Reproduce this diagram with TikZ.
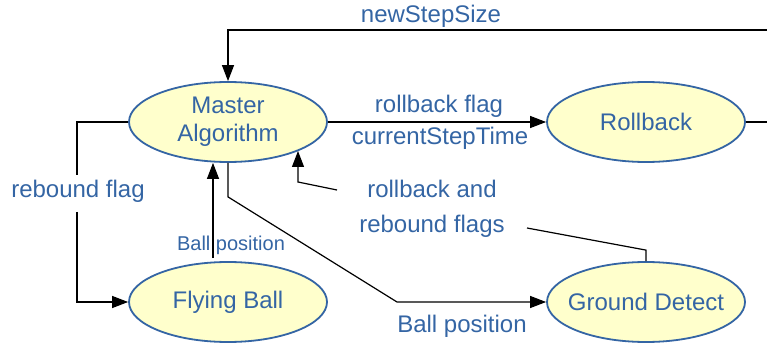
\documentclass[tikz,border=0pt]{standalone}
\usepackage{fontspec}
\setmainfont{Liberation Sans}
\usetikzlibrary{shapes.geometric,arrows.meta}
\definecolor{txtblue}{HTML}{3465A4}
\definecolor{nodefill}{HTML}{FFFFCC}
\begin{document}
\begin{tikzpicture}[x=1pt,y=-1pt,
  state/.style={ellipse, draw=txtblue, line width=1.8pt, fill=nodefill,
    minimum width=198pt, minimum height=80pt, inner xsep=-12pt, inner ysep=0pt,
    text=txtblue, font=\fontsize{24}{28}\selectfont, align=center},
  lbl/.style={text=txtblue, font=\fontsize{24}{28}\selectfont, anchor=base, inner sep=0pt},
  smalllbl/.style={lbl, font=\fontsize{20}{24}\selectfont},
  conn/.style={line width=1.2pt, draw=black},
  arr/.style={conn, -{Triangle[length=16pt,width=12pt]}}
]
\useasboundingbox (0,0) rectangle (767,347);

\node[state] (m) at (228,122) {Master\\Algorithm};
\node[state] (r) at (646,122) {Rollback};
\node[state] (f) at (228,302) {Flying Ball};
\node[state] (g) at (646,302) {Ground Detect};

% labels
\node[lbl] (lns) at (431,23) {newStepSize};
\node[lbl] (lrf) at (439,113) {rollback flag};
\node[lbl] (lcs) at (440,145) {currentStepTime};
\node[lbl] (lrb) at (78,198) {rebound flag};
\node[smalllbl] (lbp) at (231,250) {Ball position};
\node[lbl] (lra) at (432,198) {rollback and};
\node[lbl] (lrfs) at (432,232) {rebound flags};
\node[lbl] (lbp2) at (462,332) {Ball position};

% connectors
\coordinate (eR) at (767,122);
\coordinate (eT) at (767,30);
\draw[conn] (r.east) -- (eR);
\draw[arr] (eT) -| (m.north);

\draw[arr] (m.east) -- (r.west);

\coordinate (L1) at (77,175);
\coordinate (L2) at (77,212);
\draw[conn] (m.west) -| (L1);
\draw[arr] (L2) |- (f.west);

\coordinate (fb) at (213,258);
\draw[arr] (fb) -- (fb |- m.south);

\coordinate (bend) at (397,302);
\draw[arr] (m.south) -- ++(0,34) -- (bend) -- (g.west);

\coordinate (gd) at (527,228);
\draw[conn] (g.north) -- ++(0,-11) -- (gd);

\coordinate (ra) at (337,190);
\coordinate (rb) at (298,182);
\coordinate (mt) at (298,151);
\draw[arr] (ra) -- (rb) -- (mt);
\end{tikzpicture}
\end{document}
